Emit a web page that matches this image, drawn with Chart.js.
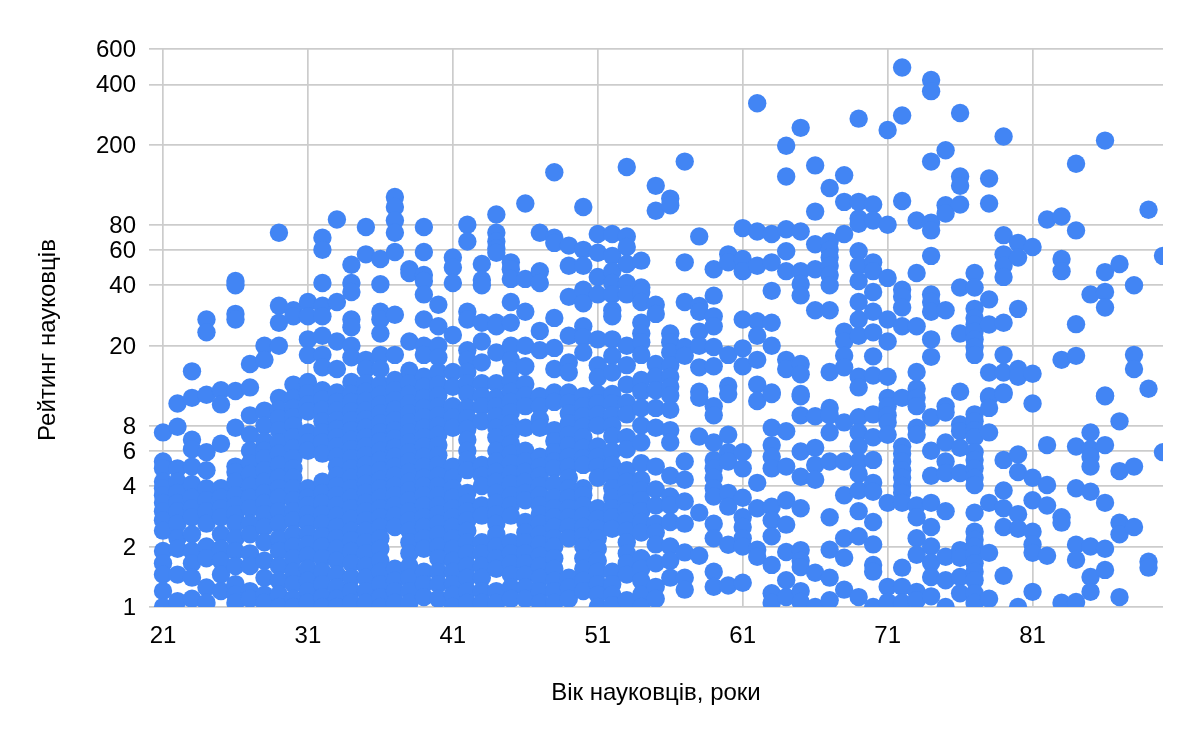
<!DOCTYPE html>
<html>
<head>
<meta charset="utf-8">
<title>Рейтинг науковців</title>
<script src="https://cdn.jsdelivr.net/npm/chart.js@4/dist/chart.umd.min.js"></script>
<style>
    html, body { margin: 0; padding: 0; background: #fff; }
    canvas { display: block; }
</style>
</head>
<body>
<canvas id="scatterChart" width="1200" height="742"></canvas>
<script>
const xTitle = "Вік науковців, роки";
const yTitle = "Рейтинг науковців";
const xTicks = [21, 31, 41, 51, 61, 71, 81];
const yTicks = [1, 2, 4, 6, 8, 20, 40, 60, 80, 200, 400, 600];

const ages = [21, 22, 23, 24, 25, 26, 27, 28, 29, 30,
    31, 32, 33, 34, 35, 36, 37, 38, 39, 40,
    41, 42, 43, 44, 45, 46, 47, 48, 49, 50,
    51, 52, 53, 54, 55, 56, 57, 58, 59, 60,
    61, 62, 63, 64, 65, 66, 67, 68, 69, 70,
    71, 72, 73, 74, 75, 76, 77, 78, 79, 80,
    81, 82, 83, 84, 85, 86, 87, 88, 89, 90];

// one row per age
const ratings = [
    [7.4, 5.3, 4.9, 4.2, 3.9, 3.6, 3.3, 3, 2.7, 2.4, 1.9, 1.65, 1.45, 1.2, 1],
    [10.3, 7.9, 4.9, 4.2, 3.7, 3.3, 3, 2.6, 2.2, 1.95, 1.45, 1.07],
    [14.9, 11, 6.8, 6.1, 5, 4.1, 3.5, 3.1, 2.8, 2.3, 1.9, 1.65, 1.4, 1.1],
    [27, 23.3, 11.4, 5.9, 4.8, 3.9, 3.4, 3, 2.6, 2, 1.75, 1.25, 1.05],
    [12, 10.2, 6.5, 3.9, 3.5, 3.1, 2.8, 2.3, 1.95, 1.7, 1.45, 1.2],
    [42, 40, 28.8, 27, 11.9, 7.8, 5, 4.7, 4.2, 3.6, 3.2, 2.9, 2.6, 2.2, 1.9, 1.6, 1.3, 1.15, 1.05],
    [16.2, 12.4, 9, 7.2, 6, 5.2, 4.6, 4, 3.5, 3.1, 2.6, 2.3, 1.85, 1.6, 1.2, 1.1],
    [20, 17, 9.5, 8, 6.7, 6, 5.5, 4.8, 4.2, 3.7, 3.3, 2.9, 2.5, 2.1, 1.7, 1.4, 1.15, 1.05],
    [73, 31.6, 26, 20, 11, 9.6, 8.7, 7.6, 6.6, 5.8, 5.1, 4.4, 3.9, 3.5, 3, 2.6, 2.2, 1.9, 1.6, 1.35, 1.15, 1],
    [30, 28, 12.8, 11, 9.8, 8.8, 8, 7, 6.2, 5.5, 4.9, 4.4, 3.9, 3.4, 3, 2.7, 2.3, 2, 1.75, 1.5, 1.3, 1.1, 1],
    [33, 28, 21.5, 18, 13.2, 11.6, 10.2, 9.4, 7.4, 6.6, 6, 3.9, 3.5, 3.2, 2.9, 2.6, 2.3, 2.05, 1.8, 1.55, 1.35, 1.2, 1.05],
    [69, 60, 41, 31.6, 28, 22.4, 18, 15.6, 12, 10.8, 9.6, 8.4, 7.4, 6.6, 5.8, 4.2, 3.7, 3.3, 2.9, 2.6, 2.25, 2, 1.75, 1.5, 1.3, 1.12, 1],
    [85, 33, 21, 15.3, 11.7, 10.5, 9.5, 8.5, 7.7, 7, 6.3, 5.6, 5, 4.5, 4, 3.6, 3.2, 2.85, 2.5, 2.2, 1.95, 1.7, 1.45, 1.25, 1.1, 1],
    [50.6, 41, 37, 27, 24.7, 20, 17.5, 13.2, 11.5, 10.5, 9.4, 8.5, 7.6, 6.8, 6.1, 5.5, 4.9, 4.4, 3.9, 3.5, 3.1, 2.75, 2.4, 2.15, 1.9, 1.65, 1.4, 1.2, 1.05],
    [78, 57, 17, 15.3, 13, 11.8, 10.6, 9.5, 8.6, 7.8, 7, 6.3, 5.7, 5.1, 4.6, 4.1, 3.7, 3.3, 3, 2.7, 2.4, 2.1, 1.85, 1.6, 1.4, 1.2, 1.05],
    [54, 40.5, 29.5, 27, 23, 18, 15.3, 12.8, 11.4, 10.2, 9.2, 8.2, 7.4, 6.7, 6, 5.4, 4.8, 4.3, 3.9, 3.5, 3.1, 2.8, 2.5, 2.2, 1.95, 1.7, 1.5, 1.3, 1.12, 1],
    [110, 98, 84, 73, 58.5, 28.5, 18, 13.5, 12, 10.7, 9.6, 8.5, 7.6, 6.9, 6.2, 5.6, 5, 4.5, 4, 3.6, 3.2, 2.85, 2.5, 1.55, 1.35, 1.2, 1.05],
    [48, 46, 21, 15, 13, 11.5, 10.3, 9.2, 8.3, 7.4, 6.6, 5.9, 5.3, 4.7, 4.2, 3.8, 3.4, 3, 2.7, 2.4, 2.1, 1.85, 1.6, 1.4, 1.2, 1.05],
    [78, 58.5, 45, 42, 36, 27, 20, 18, 14, 12.5, 11, 9.8, 8.8, 7.8, 7, 6.3, 5.6, 5, 4.4, 4, 3.6, 3.2, 2.8, 2.5, 2.2, 1.95, 1.5, 1.3, 1.12],
    [32, 25, 20, 17.5, 14.8, 12.8, 11.3, 10, 9, 8, 7.2, 6.4, 5.7, 5.1, 4.5, 4, 3.6, 3.2, 2.9, 2.6, 2.3, 2, 1.75, 1.5, 1.3, 1.1],
    [55, 49, 41, 22.6, 14.8, 12.5, 10, 8.8, 7.8, 5, 4.4, 3.9, 3.5, 3.1, 2.8, 2.5, 2.2, 1.95, 1.7, 1.5, 1.3, 1.15, 1],
    [80, 66, 29.5, 27, 19, 17, 14.8, 13, 11.5, 9.8, 8.7, 7.7, 6.8, 6, 5.4, 4.8, 3.7, 3.3, 3, 2.7, 2.4, 2.1, 1.85, 1.6, 1.4, 1.2, 1.05],
    [51, 42.5, 40, 26, 21, 16.5, 13, 11.2, 10, 8.4, 5.1, 4.5, 4, 3.2, 2.85, 2.1, 1.85, 1.6, 1.4, 1.2, 1.05],
    [90, 73, 66, 61, 58, 26, 25, 18.5, 13, 11, 10, 8.9, 7.8, 7, 6, 5.3, 4.7, 4.2, 3.7, 3.3, 2.9, 2.6, 2.3, 2, 1.75, 1.55, 1.2, 1.05],
    [52, 48, 43, 33, 26, 20, 17, 15, 13.3, 11.8, 10.5, 9.3, 8.2, 7.3, 6.5, 5.8, 5.2, 4.6, 4.1, 3.6, 3.2, 2.85, 2.1, 1.85, 1.65, 1.45, 1.25, 1.1],
    [102, 43, 29.5, 20, 15.8, 12.9, 11.3, 10, 7.8, 6, 5.3, 4.7, 4.2, 3.7, 3.4, 2.65, 2.35, 2.1, 1.85, 1.65, 1.45, 1.25, 1.1],
    [73, 47, 41, 23.7, 19, 11.2, 10, 8.6, 7.8, 5.6, 5, 4.5, 4, 3.6, 3.2, 2.9, 2.6, 2.3, 2.05, 1.8, 1.6, 1.4, 1.2, 1.05],
    [146, 69, 65, 27.5, 19.5, 15.3, 11.7, 10.5, 7.6, 6.7, 5.9, 5.3, 4.9, 4.1, 3.5, 3.1, 2.8, 2.5, 2.2, 2, 1.75, 1.55, 1.35, 1.2, 1.05],
    [63, 50, 35, 22.4, 16.5, 14.7, 11.7, 10.4, 9.2, 8.2, 7.2, 6.4, 5.6, 5, 4.4, 3.9, 3.5, 3.1, 2.8, 2.5, 2.2, 1.4, 1.25, 1.1],
    [98, 60, 50, 38, 32.5, 25, 22, 18.5, 11.2, 10, 8.9, 7.9, 7, 6.2, 5.5, 5.1, 3.9, 3.6, 3.2, 2.85, 2.5, 2.25, 2, 1.75, 1.55, 1.35, 1.2],
    [72, 58, 44, 36, 21.5, 16, 13.9, 11.5, 10.3, 9.1, 8, 6.3, 5.6, 5, 4.4, 3.1, 2.75, 2.45, 2.2, 1.95, 1.7, 1.5, 1.3, 1.15, 1],
    [72, 56, 47, 41, 36, 30, 28, 21.5, 17.8, 14.7, 11.5, 10.3, 9, 8, 7.1, 5.95, 5.1, 4.5, 3.9, 3.5, 3.1, 2.8, 2.45, 1.5, 1.3, 1.15, 1.02],
    [155, 70, 62, 51, 41, 36, 20, 16, 12.8, 10.4, 9.1, 7, 6.1, 4.8, 4.2, 3.7, 3.3, 3, 2.7, 2.4, 2.1, 1.85, 1.65, 1.45, 1.08],
    [53, 39, 37, 33, 26, 23, 20.8, 18, 13.5, 11.8, 9.8, 8, 6.6, 5.2, 4.3, 3.8, 3.4, 3, 2.65, 2.35, 1.75, 1.55, 1.35, 1.15, 1],
    [125, 94, 32, 28.8, 16.2, 14, 12, 9.8, 7.8, 5, 3.85, 3.2, 2.6, 2.35, 2.05, 1.65, 1.26, 1.1],
    [108, 100, 23, 20.8, 18.5, 16, 14, 12.5, 11.3, 9.6, 7.6, 6.6, 4.5, 3.55, 3.2, 2.65, 2, 1.7, 1.4],
    [165, 52, 33, 19.7, 17.8, 5.3, 4.3, 3.35, 2.6, 1.87, 1.4, 1.22],
    [70, 31.5, 29.5, 23.5, 20, 15.6, 11.8, 11, 7.06, 2.95, 1.8],
    [48, 35.5, 28, 25, 19.7, 15.8, 10, 9, 6.6, 5.4, 4.9, 4.4, 3.9, 3.55, 2.6, 2.2, 1.5, 1.26],
    [57, 52, 18, 12.6, 11.5, 7.2, 5.9, 5.3, 3.7, 3.16, 2.04, 1.28],
    [77, 54, 47, 27, 19.4, 15.8, 5.9, 4.9, 3.5, 2.8, 2.5, 2.2, 2, 1.32],
    [322, 74, 50, 26.5, 22.4, 17, 12.8, 10.6, 4.15, 3.1, 1.93, 1.78],
    [72, 52, 37.5, 26, 20, 11.7, 11.5, 7.8, 6.4, 5.6, 4.9, 3.16, 2.7, 2.25, 1.62, 1.17, 1.05],
    [198, 139, 76, 59, 47, 17, 15.3, 7.5, 5, 3.4, 2.57, 1.88, 1.36, 1.12],
    [243, 74, 47, 40.6, 35.6, 16.2, 14.4, 11.5, 11.2, 9, 5.95, 4.45, 3.1, 1.92, 1.7, 1.58, 1.2, 1.06],
    [158, 93, 64, 48, 30, 8.9, 6.2, 5.1, 4.3, 1.48, 1],
    [122, 66, 60, 55, 50, 45, 40, 30, 14.8, 9.8, 9, 7.4, 5.3, 2.8, 1.93, 1.4, 1.08],
    [141, 104, 72, 23.5, 21, 17.8, 15.6, 8.3, 5.3, 3.6, 2.2, 1.76, 1.22],
    [270, 104, 86, 81, 59, 50, 42, 33, 27, 22.4, 14, 12.4, 8.8, 7.4, 6.3, 5.3, 4.6, 3.8, 3, 2.25, 1.12],
    [101, 84, 52, 47, 37, 29.5, 23.3, 17.7, 14.2, 9.1, 7, 5.4, 4.15, 3.75, 2.65, 2.05, 1.62, 1.5, 1],
    [237, 80, 43.5, 27, 21, 14, 11, 10, 9, 8.3, 7.2, 3.3, 1.26, 1.06],
    [485, 280, 105, 38, 35, 31, 25, 11, 6.3, 5.8, 5.3, 4.8, 4.4, 4, 3.7, 3.3, 1.57, 1.26, 1.05],
    [84, 46, 25, 14.8, 12.2, 11, 10, 7.8, 7.2, 3.2, 2.8, 2.2, 1.82, 1.19, 1.08],
    [421, 370, 165, 82, 75, 56, 36, 33, 29.5, 21.5, 17.6, 8.8, 6, 4.5, 3.3, 2.5, 2, 1.66, 1.41, 1.13],
    [188, 100, 91, 30, 10, 9.3, 6.6, 5.3, 4.65, 3, 1.78, 1.36, 1],
    [288, 139, 125, 101, 39, 23, 11.8, 8.1, 7.5, 6.2, 4.65, 1.92, 1.76, 1.41, 1.17],
    [46, 39, 30.5, 27.5, 25.5, 23.5, 21.5, 19.7, 18, 9.1, 8.4, 7.6, 7, 5.9, 5.4, 4.9, 4.4, 4.05, 2.95, 2.37, 2.16, 2, 1.82, 1.65, 1.5, 1.36, 1.17, 1.05],
    [136, 102, 34, 25.5, 14.7, 11.2, 11, 9.8, 7.4, 3.3, 1.86, 1.1],
    [220, 71, 57, 50, 44, 26, 18, 14.7, 11.7, 11.5, 5.4, 3.8, 3.1, 2.5, 1.43],
    [65, 55, 30.5, 15.3, 14, 5.75, 4.7, 2.9, 2.45, 1],
    [62, 14.5, 10.3, 4.4, 3.4, 2.37, 2.05, 1.86, 1.19],
    [85, 6.4, 4.05, 3.2, 1.8],
    [88, 54, 47, 17, 2.8, 2.63, 1.05],
    [161, 75, 25.6, 17.8, 6.3, 3.9, 2.04, 1.72, 1.06],
    [36, 7.4, 6.1, 5.6, 5, 3.75, 2, 1.41, 1.19],
    [210, 46.5, 37, 31, 11.3, 11.2, 6.4, 3.3, 1.95, 1.53],
    [51, 8.4, 4.75, 2.63, 2.3, 1.12],
    [40, 18, 15.3, 5, 2.5],
    [95, 12.2, 1.68, 1.57],
    [56, 5.9]
];

const points = ages.flatMap((age, i) => ratings[i].map(rating => ({ x: age, y: rating })));

// the axis titles sit a little off the plot centre, so they are placed by hand
const axisTitles = {
    id: "axisTitles",
    afterDraw(chart) {
        const ctx = chart.ctx;
        ctx.save();
        ctx.fillStyle = "#000";
        ctx.font = '24px "Liberation Sans"';
        ctx.textAlign = "center";
        ctx.textBaseline = "middle";
        ctx.fillText(xTitle, 656, 693);
        ctx.translate(48, 340);
        ctx.rotate(-Math.PI / 2);
        ctx.fillText(yTitle, 0, 0);
        ctx.restore();
    }
};

new Chart(document.getElementById("scatterChart"), {
    type: "scatter",
    data: {
        datasets: [{
            data: points,
            backgroundColor: "#4285f4",
            borderWidth: 0,
            pointRadius: 9.2,
            pointHoverRadius: 9.2,
            clip: { left: 12, top: 12, right: 0, bottom: 0 }
        }]
    },
    plugins: [axisTitles],
    options: {
        responsive: false,
        animation: false,
        layout: { padding: { top: 49, right: 37, bottom: 0, left: 0 } },
        plugins: {
            legend: { display: false },
            tooltip: { enabled: false }
        },
        scales: {
            x: {
                type: "linear",
                min: 21,
                max: 90,
                afterFit: scale => { scale.height = 135; },
                afterBuildTicks: scale => { scale.ticks = xTicks.map(value => ({ value })); },
                grid: { color: "#cccccc", lineWidth: 1.7, drawTicks: false },
                border: { display: false },
                ticks: {
                    color: "#000",
                    font: { family: "Liberation Sans", size: 24 },
                    padding: 15,
                    maxRotation: 0,
                    callback: value => String(value)
                }
            },
            y: {
                type: "logarithmic",
                min: 1,
                max: 600,
                afterFit: scale => { scale.width = 163; },
                afterBuildTicks: scale => { scale.ticks = yTicks.map(value => ({ value })); },
                grid: { color: "#cccccc", lineWidth: 1.7, tickLength: 14, tickColor: "#cccccc" },
                border: { display: false },
                ticks: {
                    color: "#000",
                    font: { family: "Liberation Sans", size: 24 },
                    padding: 13,
                    labelOffset: 1.5,
                    callback: value => String(value)
                }
            }
        }
    }
});
</script>
</body>
</html>
